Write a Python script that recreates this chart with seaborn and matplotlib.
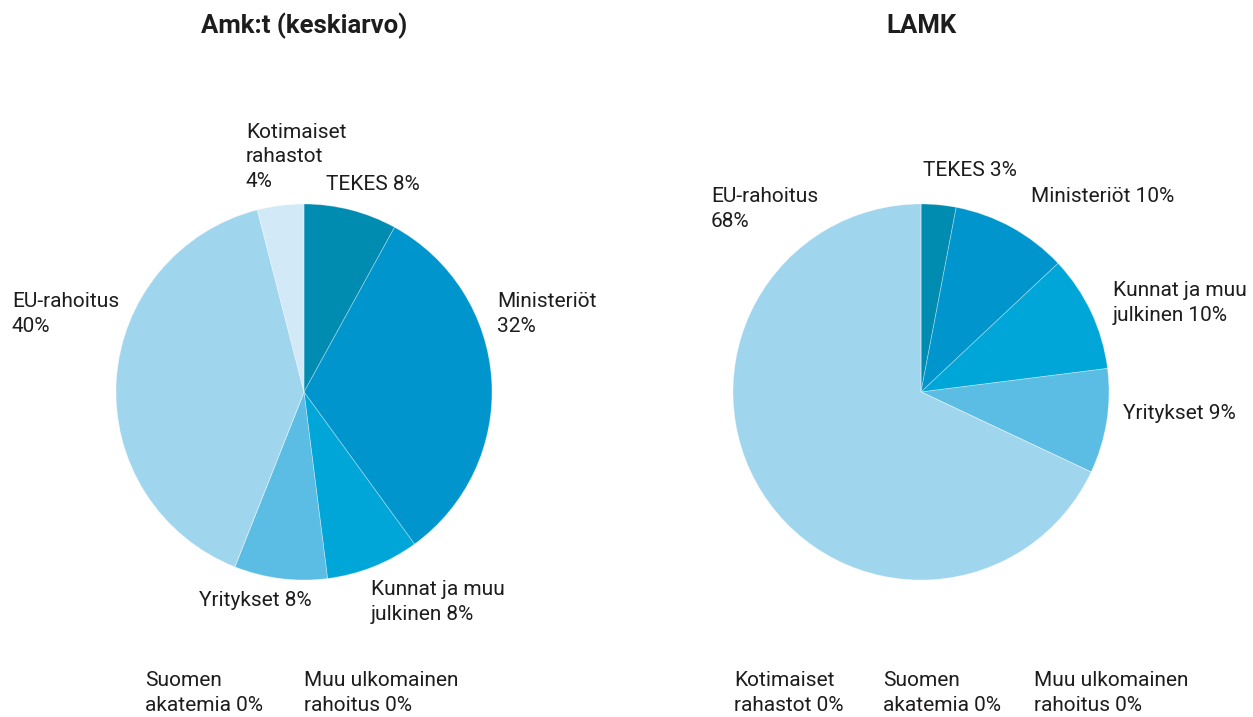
import matplotlib
matplotlib.use("Agg")
import matplotlib.pyplot as plt
import seaborn as sns

# ---- data ----
categories = ["TEKES", "Ministeriöt", "Kunnat ja muu julkinen", "Yritykset",
              "Suomen akatemia", "Muu ulkomainen rahoitus", "EU-rahoitus",
              "Kotimaiset rahastot"]
amk_values = [8, 32, 8, 8, 0, 0, 40, 4]
lamk_values = [3, 10, 10, 9, 0, 0, 68, 0]
titles = ["Amk:t (keskiarvo)", "LAMK"]
colors = ["#008bb1", "#0095cc", "#00a6d8", "#5bbde3", "#3f8fc0", "#2a7fb0",
          "#a0d5ee", "#d2eaf7"]

sns.set_theme(style="white")
plt.rcParams['font.family'] = ['Roboto', 'DejaVu Sans']

W, H = 1253, 717
fig = plt.figure(figsize=(W / 100, H / 100), dpi=100)
TXT = "#1e1c1d"


def px(x, y):
    return x / W, 1 - y / H


def pie_axes(cx, cy, r):
    return fig.add_axes([(cx - r) / W, (H - cy - r) / H, 2 * r / W, 2 * r / H])


for ax_i, (vals, cx) in enumerate([(amk_values, 304), (lamk_values, 921)]):
    ax = pie_axes(cx, 392, 188)
    ax.pie(vals, colors=colors, startangle=90, counterclock=False,
           radius=1.0, wedgeprops=dict(linewidth=0.6, edgecolor=(1, 1, 1, 0.35)))
    ax.set_xlim(-1, 1)
    ax.set_ylim(-1, 1)
    ax.set_aspect("auto")
    ax.axis("off")
    fig.text(*px(cx, 26), titles[ax_i], ha="center", va="center",
             fontsize=18.5, fontweight="bold", color=TXT)

FS = 15
LINE = 24.5  # pixel spacing between label lines
label_fmt = {
    "TEKES": "TEKES {v}%",
    "Ministeriöt": ["Ministeriöt\n{v}%", "Ministeriöt {v}%"],
    "Kunnat ja muu julkinen": "Kunnat ja muu\njulkinen {v}%",
    "Yritykset": "Yritykset {v}%",
    "Suomen akatemia": "Suomen\nakatemia {v}%",
    "Muu ulkomainen rahoitus": "Muu ulkomainen\nrahoitus {v}%",
    "EU-rahoitus": "EU-rahoitus\n{v}%",
    "Kotimaiset rahastot": ["Kotimaiset\nrahastot\n{v}%", "Kotimaiset\nrahastot {v}%"],
}

BOT = 693
# label anchor positions (left x, vertical centre y of the block) in pixels
pos_amk = {
    "TEKES": (326, 185),
    "Ministeriöt": (497, 314),
    "Kunnat ja muu julkinen": (371, 602),
    "Yritykset": (199, 600),
    "Suomen akatemia": (145, BOT),
    "Muu ulkomainen rahoitus": (304, BOT),
    "EU-rahoitus": (12, 314),
    "Kotimaiset rahastot": (246, 157),
}
pos_lamk = {
    "TEKES": (923, 170),
    "Ministeriöt": (1031, 197),
    "Kunnat ja muu julkinen": (1113, 303),
    "Yritykset": (1123, 414),
    "Suomen akatemia": (883, BOT),
    "Muu ulkomainen rahoitus": (1034, BOT),
    "EU-rahoitus": (711, 209),
    "Kotimaiset rahastot": (734, BOT),
}

for vals, pos, idx in [(amk_values, pos_amk, 0), (lamk_values, pos_lamk, 1)]:
    for name, v in zip(categories, vals):
        f = label_fmt[name]
        if isinstance(f, list):
            f = f[idx]
        lines = f.format(v=v).split("\n")
        x, yc = pos[name]
        y0 = yc - LINE * (len(lines) - 1) / 2
        for k, line in enumerate(lines):
            fig.text(*px(x, y0 + k * LINE), line, ha="left", va="center",
                     fontsize=FS, color=TXT)

fig.savefig("out.png", dpi=100, facecolor="white")
